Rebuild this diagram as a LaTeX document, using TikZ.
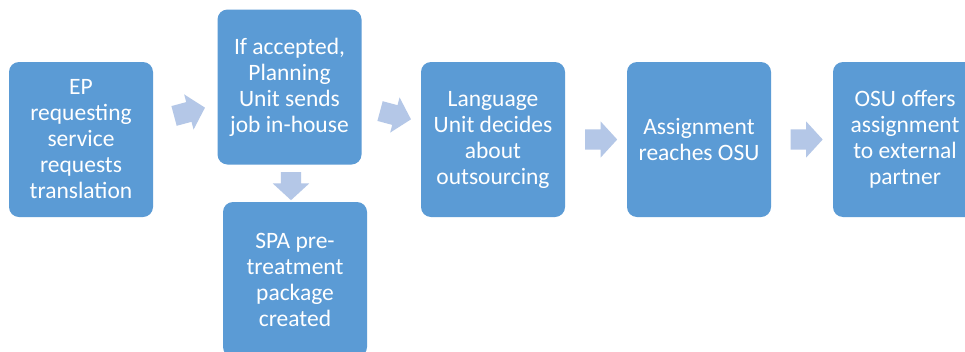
\documentclass[tikz,border=0pt]{standalone}
\usepackage{fontspec}
\setmainfont{Carlito}
\usetikzlibrary{shapes.arrows}
\definecolor{boxblue}{HTML}{5B9BD5}
\definecolor{arrowblue}{HTML}{B4C7E7}
\tikzset{
  stepbox/.style={rounded corners=10pt, fill=boxblue, draw=none, text=white,
    minimum width=144pt, minimum height=155pt, inner sep=0pt, align=center,
    font=\fontsize{23.5pt}{26pt}\selectfont},
  blockarrow/.style={single arrow, fill=arrowblue, draw=none, inner sep=0pt,
    text height=10pt, text depth=10pt, text width=0pt,
    minimum height=32pt, single arrow head extend=8pt,
    single arrow tip angle=95}
}
\begin{document}
\begin{tikzpicture}[x=1pt,y=-1pt]
\useasboundingbox (0,0) rectangle (965,351);
\clip (0,0) rectangle (965,351);
\fill[white] (0,0) rectangle (965,351);
\node[stepbox] (b1) at (81,139.5) {EP\\requesting\\service\\requests\\translation};
\node[stepbox] (b2) at (289.5,87) {If accepted,\\Planning\\Unit sends\\job in-house};
\node[stepbox] (b3) at (295,279.5) {SPA pre-\\treatment\\package\\created};
\node[stepbox] (b4) at (493,139.5) {Language\\Unit decides\\about\\outsourcing};
\node[stepbox] (b5) at (699,139.5) {Assignment\\reaches OSU};
\node[stepbox] (b6) at (905,139.5) {OSU offers\\assignment\\to external\\partner};
\node[blockarrow, rotate=15] (a1) at (185,113) {};
\node[blockarrow, rotate=-15] (a2) at (391,114) {};
\node[blockarrow, rotate=-90, minimum height=28pt] (a3) at (291,181.5) {};
\node[blockarrow] (a4) at (596.5,139.5) {};
\node[blockarrow] (a5) at (802,139.5) {};
\end{tikzpicture}
\end{document}
